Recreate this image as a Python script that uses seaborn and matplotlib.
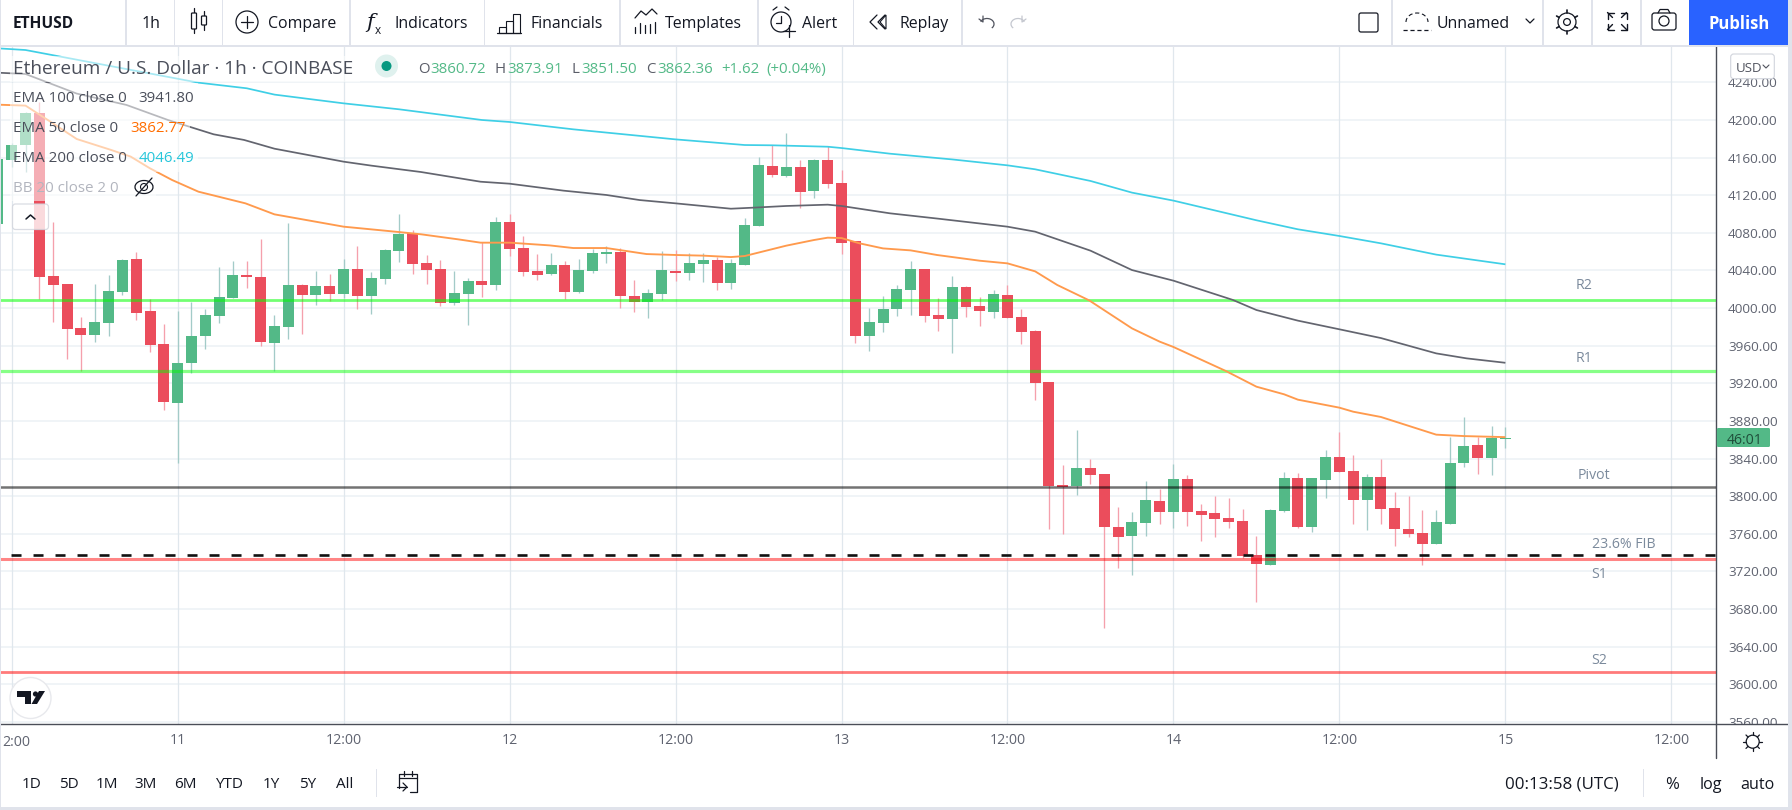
import numpy as np
import matplotlib
matplotlib.use('Agg')
import matplotlib.pyplot as plt
import seaborn as sns
from matplotlib.patches import Rectangle, Circle, FancyBboxPatch, Arc, Polygon

# ---- candles, hours counted from 10th 12:00 ----
hours = list(range(-1, 109))
opens = [4089, 4157, 4173, 4207, 4034, 4025.6, 3978.5, 3971, 3983.8, 4016.7, 4052, 3996.5, 3961.4, 3898.7, 3941.2, 3970,
         3991.2, 4010.3, 4034.8, 4032.7, 3962.5, 3979.5, 4024.2, 4013.5, 4023.1, 4014.6, 4041.2, 4012.5, 4030.5, 4060.3,
         4079.4, 4047.9, 4041.2, 4005, 4014.5, 4028.4, 4024.1, 4091.5, 4063.5, 4039, 4035.8, 4045.4, 4016.7, 4039, 4057,
         4059.2, 4012.4, 4006, 4014.6, 4039, 4036.9, 4046.4, 4050.7, 4026.2, 4045.4, 4086.8, 4151, 4140, 4149.9, 4124,
         4157.4, 4132.9, 4070.9, 3969.9, 3983.7, 3998.6, 4018.8, 4041.1, 3992.2, 3988, 4022, 4001.8, 3995.4, 4013.5,
         3990.1, 3975.2, 3921, 3811.5, 3810.4, 3829.5, 3823.2, 3766.8, 3757.2, 3771, 3794.5, 3782.8, 3817.8, 3783.8,
         3781.7, 3776.4, 3773.2, 3737, 3726.4, 3783.8, 3818.9, 3766.8, 3816.8, 3841.2, 3826.4, 3795.5, 3820, 3787,
         3764.7, 3760.4, 3748.7, 3770, 3834.9, 3854, 3840.2, 3860.72]
closes = [4158, 4173, 4207, 4033, 4024, 3977.4, 3971, 3985, 4017.8, 4051, 3994.4, 3960.4, 3899.8, 3941.2, 3970, 3992.3,
          4011.4, 4034.8, 4032.7, 3963.6, 3980.6, 4024.2, 4013.5, 4023.1, 4014.6, 4041.2, 4012.5, 4031.6, 4061.4, 4078.7,
          4046.8, 4040.1, 4005, 4015.6, 4028.4, 4024.1, 4091.5, 4062.4, 4037.9, 4034.7, 4045.4, 4016.7, 4040.1, 4058.1,
          4059.2, 4012.4, 4006, 4015.6, 4040.1, 4036.9, 4047.5, 4050.7, 4026.2, 4047.5, 4087.9, 4152, 4141, 4149.9, 4123,
          4157.4, 4131.9, 4068.8, 3969.9, 3984.8, 3998.6, 4019.8, 4041.1, 3991.1, 3988, 4022, 4000.7, 3996.5, 4014.5,
          3989, 3974.1, 3919.9, 3810.4, 3809.3, 3829.5, 3822.1, 3766.8, 3756.2, 3772.1, 3795.5, 3782.8, 3817.8, 3782.8,
          3780.3, 3775.3, 3772.1, 3736, 3727.5, 3784.9, 3818.9, 3766.8, 3818.9, 3841.2, 3825.3, 3795.5, 3820, 3786, 3764.7,
          3759.4, 3748.7, 3772.1, 3834.9, 3852.9, 3840.2, 3861.4, 3862.36]
highs = [4160, 4175, 4208, 4219, 4092, 4026, 3990, 4025.6, 4035, 4052, 4059.6, 4009.3, 3982.7, 3996.9, 4006, 3998.7,
         4043.3, 4050, 4050, 4073.4, 3992.3, 4090, 4025.6, 4039, 4035.9, 4052.2, 4066, 4038, 4062.8, 4100, 4083, 4056.4,
         4051, 4039, 4031.6, 4069.8, 4096.8, 4100, 4076.2, 4057.4, 4058.1, 4050, 4051.8, 4062.4, 4065.6, 4063.4, 4029.4,
         4019.9, 4060.3, 4061.3, 4058.1, 4058.1, 4053.9, 4051.8, 4095.4, 4160.2, 4173.3, 4186, 4157.4, 4158, 4172.3,
         4146.7, 4071, 3999.7, 4012.4, 4024.1, 4049.6, 4041.1, 4010.3, 4034, 4023.4, 4011.3, 4018.8, 4024.5, 3998.6,
         3976.3, 3921, 3832.7, 3869.9, 3839.1, 3823.2, 3788, 3782.8, 3815.7, 3807.2, 3833.8, 3822.1, 3791.3, 3800.5,
         3797.7, 3786.7, 3757.2, 3786, 3825.3, 3824.2, 3818.9, 3848.7, 3867.8, 3843.4, 3823.2, 3839.1, 3804, 3800.5,
         3784.9, 3784.9, 3862.5, 3883.8, 3862.5, 3874.2, 3873.91]
lows = [4085, 4150, 4145, 4010, 3985, 3945.5, 3933, 3963.6, 3970, 4013.5, 3987, 3953.6, 3891.3, 3835, 3930.6, 3956.1,
        3983.8, 4010.3, 4021, 3959.3, 3932.7, 3966.8, 3972, 4003, 4007.2, 4010.3, 3998.7, 3993.3, 4025.6, 4048.6, 4036.2,
        4025.6, 4001.8, 4002.9, 3981.6, 4011.4, 4018.8, 4055.3, 4033.7, 4029.4, 4034.7, 4009.2, 4015.6, 4037.2, 4047.5,
        3999.7, 3995.4, 3989, 4008.2, 4028.4, 4029.4, 4027.3, 4018.8, 4019.9, 4045.4, 4086.8, 4138.9, 4138.9, 4106.3,
        4116.6, 4127.2, 4057.1, 3962.4, 3954, 3974.1, 3991.1, 3992.2, 3984.8, 3975.2, 3951.8, 3990.1, 3980.5, 3989, 3989,
        3961.4, 3901.8, 3765.4, 3759.7, 3801.2, 3812.5, 3660.1, 3723.9, 3716.5, 3757.2, 3770, 3765.7, 3767.9, 3751.9,
        3757, 3765.8, 3733.9, 3687.1, 3726.4, 3782.8, 3765.8, 3761.5, 3797.7, 3825.3, 3770, 3763.6, 3770, 3746.6, 3756.2,
        3726.4, 3748.7, 3770, 3830.6, 3823.2, 3822.1, 3851.5]

ema200_h = [-1, 1, 13.5, 17, 19, 24, 28, 34, 36, 40.6, 48, 53, 55, 59, 60, 63.5, 68, 72, 74, 78, 81, 84, 90, 93, 96, 99, 103, 108]
ema200 = [4276.1, 4274.3, 4239.6, 4233.6, 4226.9, 4217.6, 4211.3, 4199.9, 4197.8, 4190, 4179.3, 4173.3, 4173, 4171.5,
          4170.1, 4164.1, 4158, 4151.7, 4147.5, 4135.1, 4122.7, 4114.2, 4093.3, 4083.7, 4076.6, 4068.8, 4056.8, 4046.49]
ema100_h = [-1, 1, 4.7, 8.3, 11.3, 14.6, 16.8, 19, 24, 26, 29.6, 33.9, 36, 39.9, 43, 45.4, 48, 52, 53.6, 56, 59, 60, 63.5,
            67, 72, 74, 78, 81, 84, 88.3, 90, 93, 96, 99, 103, 105.2, 108]
ema100 = [4250.2, 4248.8, 4228, 4215.9, 4199.9, 4184.7, 4178.7, 4169.4, 4155.6, 4151.4, 4144.6, 4134.3, 4132.2, 4124.8,
          4120.2, 4114.8, 4111.3, 4105.6, 4106.7, 4108.5, 4109.9, 4108.5, 4100.7, 4095, 4086.5, 4081.2, 4061, 4040.4,
          4029.1, 4008.6, 3997.9, 3986.6, 3977.4, 3968.1, 3951.8, 3946.5, 3941.8]
ema50_h = [-1, 1, 2.8, 4.7, 7.2, 8.6, 10, 11.6, 13.5, 16.9, 19, 24, 28, 29.6, 32.3, 33.9, 36, 38.9, 40.6, 43, 45.9, 48, 50,
           52, 53, 56, 58, 59, 60, 61.3, 63, 65, 66.9, 70, 72, 74, 75.6, 77.9, 81, 83, 84, 87.8, 90, 92, 93, 96, 97, 99,
           103, 105, 108]
ema50 = [4216.2, 4215.2, 4198.1, 4179.7, 4168, 4161, 4148.5, 4136.1, 4123.7, 4111.3, 4099.6, 4086.5, 4080.8, 4078.4, 4073,
         4069.5, 4069.5, 4066.6, 4063.8, 4063.8, 4057.4, 4056.4, 4055.7, 4054.2, 4055.3, 4066.3, 4072.3, 4074.8, 4074.4,
         4068.8, 4063.4, 4061.3, 4056.4, 4050.3, 4047.5, 4039, 4024.5, 4008.2, 3978.4, 3964.3, 3958.6, 3933, 3916.4,
         3908.3, 3902.6, 3894.1, 3889.8, 3884.2, 3865.4, 3863.9, 3862.77]

# ---- drawn levels ----
r2, r1, pivot, fib, s1, s2 = 4008.2, 3933.1, 3809.4, 3737.4, 3733.1, 3613.2

price_ticks = list(range(3560, 4241, 40))
time_ticks = list(range(0, 121, 12))
# the first label sits half off the window, the visible part goes in by hand below
time_labels = ['', '11', '12:00', '12', '12:00', '13', '12:00', '14', '12:00', '15', '12:00']

GREEN, RED = '#53b987', '#eb4d5c'
INK, MUTED = '#131722', '#5f6370'
DIV = '#e0e3eb'

sns.set_theme(style='white')
plt.rcParams['font.family'] = ['Open Sans', 'DejaVu Sans']
plt.rcParams['lines.solid_capstyle'] = 'butt'
plt.rcParams['lines.scale_dashes'] = False

W, H = 1792, 810
fig = plt.figure(figsize=(W / 100, H / 100), dpi=100, facecolor='white')
ax = fig.add_axes([0, 1 - 724.3 / H, 1716.3 / W, (724.3 - 45.5) / H])

# ---- grid ----
for p in price_ticks:
    ax.axhline(p, color='#eef2f6', lw=1.2, zorder=0)
for t in time_ticks:
    ax.axvline(t, color='#e0e7ed', lw=0.9, zorder=0)

# ---- candles ----
o, c, hi, lo = map(np.array, (opens, closes, highs, lows))
up = c >= o
colors = np.where(up, GREEN, RED)
wicks = np.where(up, '#a3cbc8', '#f5a0ac')
ax.vlines(hours, lo, hi, colors=wicks, lw=0.95, zorder=2)
ax.bar(hours, np.abs(c - o), bottom=np.minimum(o, c), width=0.795, color=colors, linewidth=0, zorder=3)

# ---- levels ----
ax.axhline(r2, color='#00ff00', alpha=0.55, lw=2.0, zorder=4)
ax.axhline(r1, color='#00ff00', alpha=0.47, lw=2.3, zorder=4)
ax.axhline(pivot, color='#000000', alpha=0.55, lw=1.8, zorder=4)
ax.axhline(s1, color='#ff0000', alpha=0.48, lw=2.2, zorder=4)
ax.axhline(s2, color='#ff0000', alpha=0.52, lw=2.0, zorder=4)
ax.axhline(fib, color='#111111', lw=1.9, linestyle=(7.9, (7.2, 8.64)), zorder=4)

# ---- moving averages ----
sns.lineplot(x=ema200_h, y=ema200, color='#3fcfe6', lw=1.25, ax=ax, zorder=5, estimator=None, sort=False)
sns.lineplot(x=ema100_h, y=ema100, color='#63656f', lw=1.25, ax=ax, zorder=5, estimator=None, sort=False)
sns.lineplot(x=ema50_h, y=ema50, color='#ff9a4d', lw=1.35, ax=ax, zorder=5, estimator=None, sort=False)

ax.set_xlim(-0.846, 123.25)
ax.set_ylim(3557.5, 4279.1)
ax.set_xticks(time_ticks, time_labels)
ax.set_yticks(price_ticks, [f'{p:.2f}' for p in price_ticks])
ax.yaxis.tick_right()
ax.tick_params(axis='y', length=0, pad=8.4, labelsize=9.7, labelcolor=MUTED)
ax.tick_params(axis='x', length=0, pad=6.5, labelsize=10.2, labelcolor=MUTED)
ax.set_xlabel('')
ax.set_ylabel('')
for name in ('top', 'left'):
    ax.spines[name].set_visible(False)
for name in ('right', 'bottom'):
    ax.spines[name].set_color('#4a4d57')
    ax.spines[name].set_linewidth(1.0)

# ---- everything around the chart, in pixel coordinates ----
ui = fig.add_axes([0, 0, 1, 1], zorder=10)
ui.set_xlim(0, W)
ui.set_ylim(H, 0)
ui.axis('off')
ui.patch.set_alpha(0)


def txt(x, y, s, size=10.8, color=INK, ha='left', **kw):
    ui.text(x, y, s, fontsize=size, color=color, ha=ha, va='center_baseline', zorder=kw.pop('zorder', 6), **kw)


def seg(xs, ys, color=INK, lw=0.9, **kw):
    ui.plot(xs, ys, color=color, lw=lw, solid_capstyle='round', zorder=6, **kw)


def box(x0, y0, x1, y1, fc, ec='none', lw=0, alpha=None, zorder=2):
    ui.add_patch(Rectangle((x0, y0), x1 - x0, y1 - y0, fc=fc, ec=ec, lw=lw, alpha=alpha, zorder=zorder))


def rbox(x0, y0, x1, y1, fc='none', ec=INK, lw=0.9, r=3, alpha=None, zorder=6):
    ui.add_patch(FancyBboxPatch((x0 + r, y0 + r), x1 - x0 - 2 * r, y1 - y0 - 2 * r, boxstyle=f'round,pad={r}',
                                fc=fc, ec=ec, lw=lw, alpha=alpha, zorder=zorder))


# window edges
box(0, 0, 1.2, H, DIV, zorder=7)
box(1788, 0, W, H, DIV, zorder=7)
box(0, 807, W, H, DIV, zorder=7)
box(0, 44.5, 1788, 46.5, DIV, zorder=5)
box(1717, 725, 1788, 758, 'white', zorder=1)
seg([1716.3, 1716.3], [724, 758], color='#4a4d57', lw=1.0)
seg([1716.3, 1788], [724.3, 724.3], color='#4a4d57', lw=1.0)
txt(2, 741, '2:00', size=10.2, color=MUTED)

# top toolbar
for x in (126, 174.5, 222.7, 350, 484.5, 620, 758, 853.6, 962, 1392, 1543, 1592, 1641):
    box(x - 0.6, 0, x + 0.6, 45, DIV, zorder=5)
txt(13, 22, 'ETHUSD', size=11.2, fontweight='bold')
txt(151, 22, '1h', size=11.4, ha='center')
txt(268, 22, 'Compare', size=11.4)
txt(395, 22, 'Indicators', size=11.4)
txt(530, 22, 'Financials', size=11.4)
txt(665, 22, 'Templates', size=11.4)
txt(802, 22, 'Alert', size=11.4)
txt(899.5, 22, 'Replay', size=11.4)
txt(1437, 22, 'Unnamed', size=11.4)
box(1689, 0, 1789, 45, '#2962ff', zorder=5)
txt(1739, 22, 'Publish', size=12, color='white', ha='center', fontweight='bold')

# candle icon
seg([194, 194], [8, 33]); seg([204, 204], [11, 30])
rbox(191.5, 13, 196.5, 29, fc='white', r=0.8)
rbox(201.5, 16, 206.5, 25, fc='white', r=0.8)
# compare icon
ui.add_patch(Circle((247, 22), 11, fc='none', ec=INK, lw=0.9, zorder=6))
seg([241, 253], [22, 22]); seg([247, 247], [16, 28])
# fx icon
txt(366, 21, 'f', size=15, style='italic', family='DejaVu Serif')
txt(375, 29, 'x', size=8.5)
# financials icon
for x0, top in ((499, 27), (506, 21), (513, 14)):
    ui.add_patch(Rectangle((x0, top), 6.5, 33 - top, fc='none', ec=INK, lw=0.8, zorder=6))
seg([497, 521], [33, 33])
# templates icon
seg([635, 641, 646, 652, 657], [18, 11, 15, 9, 14])
for x0, top in ((635, 27), (640, 23), (645, 25), (650, 24), (655, 22)):
    seg([x0, x0], [top, 33])
# alert icon
ui.add_patch(Circle((781, 22), 10, fc='none', ec=INK, lw=0.9, zorder=6))
seg([781, 781, 776], [16, 23, 23]); seg([773, 777], [10, 7]); seg([789, 785], [10, 7])
box(783, 22, 794, 38, 'white', zorder=5.5)
seg([789, 789], [25, 37]); seg([783, 795], [31, 31])
# replay icon
seg([877, 870, 877], [15, 22, 29]); seg([885, 878, 885], [15, 22, 29])
ui.add_patch(Polygon([(886, 15), (886, 29), (880, 22)], fc='none', ec=INK, lw=0.8, zorder=6))
# undo and redo
ui.add_patch(Arc((987, 24), 14, 11, theta1=200, theta2=40, ec='#50535e', lw=0.9, zorder=6))
seg([979, 983, 983], [19, 22, 16], color='#50535e')
ui.add_patch(Arc((1018, 24), 14, 11, theta1=140, theta2=340, ec='#c4c7cf', lw=0.9, zorder=6))
seg([1026, 1022, 1022], [19, 22, 16], color='#c4c7cf')
# layout box and cloud
rbox(1359, 13, 1378, 32, r=2)
seg([1403, 1431], [30, 30], ls=(0, (3, 2)))
ui.add_patch(Arc((1417, 22), 22, 18, theta1=180, theta2=360, ec=INK, lw=0.8, ls=(0, (3, 2)), zorder=6))
seg([1526, 1530, 1534], [19, 23, 19])
# gear, made of a wheel and teeth
ui.add_patch(Circle((1567, 22), 9, fc='none', ec=INK, lw=0.9, zorder=6))
ui.add_patch(Circle((1567, 22), 3.4, fc='none', ec=INK, lw=0.9, zorder=6))
for a in np.arange(0, 360, 60):
    ca, sa = np.cos(np.radians(a + 30)), np.sin(np.radians(a + 30))
    seg([1567 + 9 * ca, 1567 + 12 * ca], [22 + 9 * sa, 22 + 12 * sa], lw=1.2)
# fullscreen arrows
for sx, sy in ((-1, -1), (1, -1), (-1, 1), (1, 1)):
    cx, cy = 1617 + sx * 9.5, 21 + sy * 8.5
    seg([cx - sx * 6, cx, cx], [cy, cy, cy - sy * 6], lw=1.0)
    seg([cx, cx - sx * 5], [cy, cy - sy * 5], lw=1.0)
# camera
rbox(1652, 13, 1676, 30, r=2.5)
ui.add_patch(Circle((1664, 21), 5, fc='none', ec=INK, lw=0.9, zorder=6))
seg([1658, 1660, 1668, 1670], [13, 9.5, 9.5, 13])

# legend rows fade whatever is behind them
for y0, y1, x1 in ((56, 82, 360), (83, 112, 198), (112, 142, 190), (142, 172, 198), (172, 201, 156)):
    box(10, y0, x1, y1, 'white', alpha=0.55, zorder=2)
txt(13, 67, 'Ethereum / U.S. Dollar · 1h · COINBASE', size=13.7, color='#4a4e5a')
ui.add_patch(Circle((386.5, 66), 11.5, fc='#dff1ee', ec='none', zorder=4))
ui.add_patch(Circle((386.5, 66), 5, fc='#089981', ec='none', zorder=5))
for lx, vx, letter, val in ((417.7, 430.7, 'O', '3860.72'), (495, 507.7, 'H', '3873.91'),
                            (571.7, 581, 'L', '3851.50'), (645.7, 657.3, 'C', '3862.36')):
    txt(lx, 67.7, letter, color='#5a5d68')
    txt(vx, 67.7, val, color=GREEN)
txt(721.7, 67.7, '+1.62', color=GREEN)
txt(766.7, 67.7, '(+0.04%)', color=GREEN)

txt(13, 97, 'EMA 100 close 0', size=10.9, color='#4a4e5a')
txt(138.5, 97, '3941.80', size=10.8, color='#4a4e5a')
txt(13, 127, 'EMA 50 close 0', size=10.9, color='#4a4e5a')
txt(130, 127, '3862.77', size=10.8, color='#ff6d00')
txt(13, 157, 'EMA 200 close 0', size=10.9, color='#4a4e5a')
txt(138.5, 157, '4046.49', size=10.8, color='#26c6da')
txt(13, 187, 'BB 20 close 2 0', size=10.9, color='#b2b5be')
ui.add_patch(Arc((144, 187), 18, 13, theta1=0, theta2=360, ec=INK, lw=0.9, zorder=6))
ui.add_patch(Circle((144, 187), 3.5, fc='none', ec=INK, lw=0.8, zorder=6))
seg([136, 152], [196, 178])

# collapse button
rbox(12.5, 204, 48.5, 229.5, fc='white', ec='#d1d4dc', alpha=0.8, zorder=3)
seg([26, 30.5, 35], [219, 215, 219], lw=1.1)

# level labels
for x, y, s in ((1576, 283.5, 'R2'), (1576, 356.6, 'R1'), (1577.7, 473.5, 'Pivot'),
                (1591.7, 543, '23.6% FIB'), (1591.7, 573, 'S1'), (1591.7, 658.5, 'S2')):
    txt(x, y, s, size=10.2, color='#7b8a9c', zorder=1)

# USD button and countdown tag
rbox(1730.7, 54, 1774.3, 78.7, fc='white', ec='#d1d4dc', lw=0.8, r=3, zorder=4)
txt(1736, 66.5, 'USD', size=9.5, color='#50535e')
seg([1763, 1766, 1769], [65, 68, 65], color='#50535e', lw=0.8)
rbox(1716.8, 428, 1770, 447, fc=GREEN, ec='none', r=1.5, zorder=4)
txt(1745, 438, '46:01', size=10.2, color='#1f4d3a', ha='center')

# TradingView badge
ui.add_patch(Circle((30.5, 698), 20.5, fc='white', ec='#e8e9ed', lw=1.0, zorder=4))
ui.add_patch(Polygon([(17, 691), (31, 691), (31, 704), (25, 704), (25, 697), (17, 697)], fc=INK, ec='none', zorder=5))
ui.add_patch(Circle((35.5, 694), 2.6, fc=INK, ec='none', zorder=5))
ui.add_patch(Polygon([(39, 691), (45, 691), (37, 704), (31.5, 704)], fc=INK, ec='none', zorder=5))

# bottom bar
for x, s in ((31.4, '1D'), (69, '5D'), (107, '1M'), (146, '3M'), (185, '6M'), (228.5, 'YTD'), (271.7, '1Y'), (308, '5Y'), (345, 'All')):
    txt(x, 782.7, s, size=11, ha='center')
box(376, 768.7, 377.2, 797, DIV)
box(1643, 768.7, 1644.2, 797, DIV)
seg([399, 399, 417, 417, 410], [788, 774, 774, 792, 792])
seg([399, 417], [778, 778])
seg([404, 404], [771, 776]); seg([412, 412], [771, 776])
seg([397, 407], [787, 787]); seg([403, 407, 403], [783, 787, 791])
txt(1505, 782.7, '00:13:58 (UTC)', size=12.2)
txt(1672, 782.7, '%', size=12, ha='center')
txt(1710.7, 782.7, 'log', size=11.6, ha='center')
txt(1757.3, 782.7, 'auto', size=11.6, ha='center')
# sun
ui.add_patch(Circle((1752.7, 741.7), 6.5, fc='white', ec=INK, lw=0.9, zorder=6))
for a in np.arange(0, 360, 45):
    ca, sa = np.cos(np.radians(a)), np.sin(np.radians(a))
    seg([1752.7 + 6.5 * ca, 1752.7 + 9.5 * ca], [741.7 + 6.5 * sa, 741.7 + 9.5 * sa], lw=0.9)

fig.savefig('out.png', dpi=100, facecolor='white')
